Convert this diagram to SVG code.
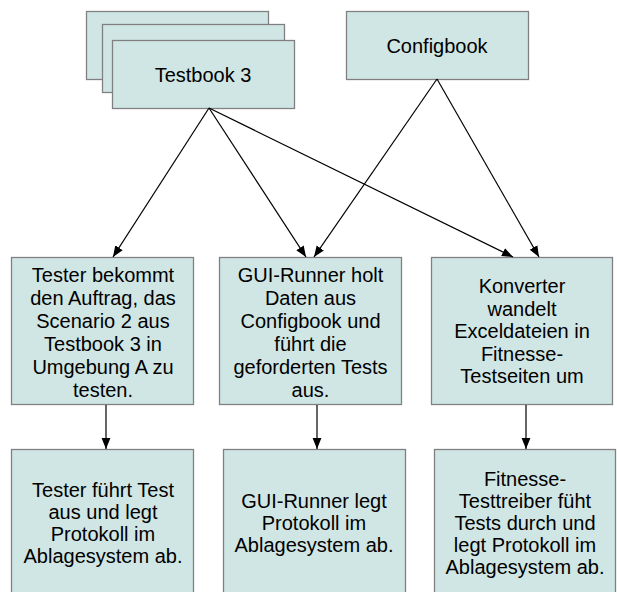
<svg xmlns="http://www.w3.org/2000/svg" width="617" height="592" viewBox="0 0 617 592">
<style>
.box{fill:#d0e6e4;stroke:#808080;stroke-width:1.3}
.t{font-family:"Liberation Sans",Arial,sans-serif;font-size:20px;fill:#000;text-anchor:middle}
.c{stroke:#000;stroke-width:1.2;fill:none;marker-end:url(#ah)}
</style>
<defs>
<marker id="ah" viewBox="0 0 10 10" refX="10" refY="5" markerWidth="11" markerHeight="11" markerUnits="userSpaceOnUse" orient="auto">
<path d="M0,1 L10,5 L0,9 Z" fill="#000"/>
</marker>
</defs>
<rect width="617" height="592" fill="#fff"/>
<g id="testbook">
<rect class="box" x="86.5" y="11.5" width="182" height="68"/>
<rect class="box" x="102.5" y="24.5" width="182" height="68"/>
<rect class="box" x="112.5" y="40.5" width="182" height="68"/>
<text class="t" x="203" y="82">Testbook 3</text>
</g>
<g id="configbook">
<rect class="box" x="346.5" y="11.5" width="182" height="68"/>
<text class="t" x="437" y="53">Configbook</text>
</g>
<g id="tester">
<rect class="box" x="11.5" y="257.5" width="182" height="147"/>
<text class="t" x="103" y="282">Tester bekommt</text>
<text class="t" x="103" y="305">den Auftrag, das</text>
<text class="t" x="103" y="328">Scenario 2 aus</text>
<text class="t" x="103" y="351">Testbook 3 in</text>
<text class="t" x="103" y="374">Umgebung A zu</text>
<text class="t" x="103" y="397">testen.</text>
</g>
<g id="guirunner">
<rect class="box" x="219.5" y="257.5" width="182" height="147"/>
<text class="t" x="310.5" y="282">GUI-Runner holt</text>
<text class="t" x="310.5" y="305">Daten aus</text>
<text class="t" x="310.5" y="328">Configbook und</text>
<text class="t" x="310.5" y="351">führt die</text>
<text class="t" x="310.5" y="374">geforderten Tests</text>
<text class="t" x="310.5" y="397">aus.</text>
</g>
<g id="konverter">
<rect class="box" x="431.5" y="257.5" width="181" height="147"/>
<text class="t" x="522" y="293">Konverter</text>
<text class="t" x="522" y="315.5">wandelt</text>
<text class="t" x="522" y="338">Exceldateien in</text>
<text class="t" x="522" y="360.5">Fitnesse-</text>
<text class="t" x="522" y="383">Testseiten um</text>
</g>
<g id="testerlog">
<rect class="box" x="11.5" y="449.5" width="182" height="150"/>
<text class="t" x="103" y="497">Tester führt Test</text>
<text class="t" x="103" y="519">aus und legt</text>
<text class="t" x="103" y="541">Protokoll im</text>
<text class="t" x="103" y="563">Ablagesystem ab.</text>
</g>
<g id="guilog">
<rect class="box" x="223.5" y="449.5" width="182" height="150"/>
<text class="t" x="314" y="508">GUI-Runner legt</text>
<text class="t" x="314" y="530">Protokoll im</text>
<text class="t" x="314" y="552">Ablagesystem ab.</text>
</g>
<g id="fitnesselog">
<rect class="box" x="434.5" y="449.5" width="181" height="150"/>
<text class="t" x="525" y="486">Fitnesse-</text>
<text class="t" x="525" y="508">Testtreiber füht</text>
<text class="t" x="525" y="530">Tests durch und</text>
<text class="t" x="525" y="552">legt Protokoll im</text>
<text class="t" x="525" y="574">Ablagesystem ab.</text>
</g>
<g id="connectors">
<line class="c" x1="209" y1="108" x2="113" y2="257"/>
<line class="c" x1="209" y1="108" x2="306" y2="257"/>
<line class="c" x1="209" y1="108" x2="513" y2="257"/>
<line class="c" x1="437" y1="79" x2="314" y2="257"/>
<line class="c" x1="437" y1="79" x2="539" y2="257"/>
<line class="c" x1="106" y1="405" x2="106" y2="449"/>
<line class="c" x1="317" y1="405" x2="317" y2="449"/>
<line class="c" x1="526" y1="405" x2="526" y2="449"/>
</g>
</svg>
